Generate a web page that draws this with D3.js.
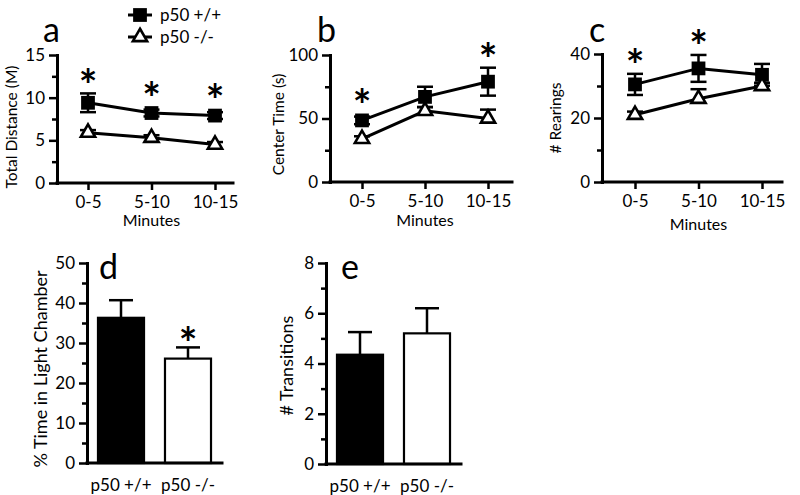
<!DOCTYPE html>
<html><head><meta charset="utf-8">
<script src="https://cdn.jsdelivr.net/npm/d3@7"></script>
<style>
body{margin:0;background:#fff}
text{font-family:Lato,"Noto Sans",sans-serif;fill:#000}
</style>
</head><body>
<svg id="chart" width="800" height="495"></svg>
<script>
// ---------- data ----------
const minutes = ["0-5", "5-10", "10-15"];
const genotypes = ["p50 +/+", "p50 -/-"];

const distWT = [9.4, 8.2, 7.9];
const distWTErr = [1.1, 0.4, 0.4];
const distKO = [5.9, 5.3, 4.5];
const distKOErr = [0.3, 0.3, 0.3];
const distSig = [true, true, true];

const centerWT = [48.5, 67, 79];
const centerWTErr = [3, 8, 11];
const centerKO = [34, 56, 50];
const centerKOErr = [2, 3, 7];
const centerSig = [true, false, true];

const rearWT = [30.5, 35.5, 33.5];
const rearWTErr = [3.3, 4.2, 3.4];
const rearKO = [21, 26, 30];
const rearKOErr = [1, 3, 1];
const rearSig = [true, true, false];

const lightTime = [36.3, 26.1];
const lightTimeErr = [4.4, 2.8];
const lightSig = [false, true];

const transitions = [4.35, 5.2];
const transitionsErr = [0.9, 1.0];
const transSig = [false, false];

const distTicks = [0, 5, 10, 15], distMinor = [2.5, 7.5, 12.5];
const centerTicks = [0, 50, 100], centerMinor = [25, 75];
const rearTicks = [0, 20, 40], rearMinor = [10, 30];
const lightTicks = [0, 10, 20, 30, 40, 50], lightMinor = [5, 15, 25, 35, 45];
const transTicks = [0, 2, 4, 6, 8], transMinor = [1, 3, 5, 7];

// ---------- drawing ----------
const svg = d3.select("#chart");
const TICKFONT = 17;
const STAR = 44;

function yAxis(g, y, ax, majors, minors) {
  const a = g.append("g").attr("transform", `translate(${ax},0)`)
    .call(d3.axisLeft(y).tickValues(majors).tickSize(8).tickPadding(4).tickSizeOuter(0));
  a.attr("font-family", null).attr("font-size", null);
  a.select(".domain").attr("stroke-width", 3).attr("stroke-linecap", "square");
  a.selectAll(".tick line").attr("stroke-width", 2.5);
  a.selectAll(".tick text").style("font-size", TICKFONT + "px");
  const m = g.append("g").attr("transform", `translate(${ax},0)`)
    .call(d3.axisLeft(y).tickValues(minors).tickSize(5).tickFormat(""));
  m.select(".domain").remove();
  m.selectAll(".tick line").attr("stroke-width", 2.5);
}

function star(g, x, centerY) {
  g.append("text").attr("x", x).attr("y", centerY + STAR * 0.58)
    .attr("text-anchor", "middle").style("font-size", STAR + "px").style("font-weight", "bold").text("*");
}

function linePanel(c) {
  const g = svg.append("g");
  const y = d3.scaleLinear().domain(c.domain).range([c.y0, c.y1]);
  const x = d3.scalePoint().domain(minutes).range(c.xr);
  yAxis(g, y, c.ax, c.majors, c.minors);
  const xa = g.append("g").attr("transform", `translate(0,${c.y0})`)
    .call(d3.axisBottom(x).tickSize(7).tickPadding(6).tickSizeOuter(0));
  xa.attr("font-family", null).attr("font-size", null);
  xa.select(".domain").remove();
  xa.selectAll(".tick line").attr("stroke-width", 2.5);
  xa.selectAll(".tick text").style("font-size", TICKFONT + "px");
  g.append("line").attr("x1", c.ax).attr("x2", c.xEnd).attr("y1", c.y0).attr("y2", c.y0)
    .attr("stroke", "#000").attr("stroke-width", 3).attr("stroke-linecap", "square");

  const line = d3.line().x((d, i) => x(minutes[i])).y(d => y(d));
  const cap = 8;
  c.wt.forEach((v, i) => {
    const xx = x(minutes[i]), lo = y(v - c.wtErr[i]), hi = y(v + c.wtErr[i]);
    g.append("line").attr("x1", xx).attr("x2", xx).attr("y1", lo).attr("y2", hi).attr("stroke", "#000").attr("stroke-width", 2.5);
    [lo, hi].forEach(yy => g.append("line").attr("x1", xx - cap).attr("x2", xx + cap).attr("y1", yy).attr("y2", yy).attr("stroke", "#000").attr("stroke-width", 2.5));
  });
  c.ko.forEach((v, i) => {
    const xx = x(minutes[i]), lo = y(v), hi = y(v + c.koErr[i]);
    g.append("line").attr("x1", xx).attr("x2", xx).attr("y1", lo).attr("y2", hi).attr("stroke", "#000").attr("stroke-width", 2.5);
    g.append("line").attr("x1", xx - cap).attr("x2", xx + cap).attr("y1", hi).attr("y2", hi).attr("stroke", "#000").attr("stroke-width", 2.5);
  });
  g.append("path").attr("d", line(c.wt)).attr("fill", "none").attr("stroke", "#000").attr("stroke-width", 3);
  g.append("path").attr("d", line(c.ko)).attr("fill", "none").attr("stroke", "#000").attr("stroke-width", 3);
  c.wt.forEach((v, i) => {
    g.append("path").attr("d", d3.symbol(d3.symbolSquare, 190)())
      .attr("transform", `translate(${x(minutes[i])},${y(v)})`).attr("fill", "#000");
  });
  c.ko.forEach((v, i) => {
    g.append("path").attr("d", d3.symbol(d3.symbolTriangle, 88)())
      .attr("transform", `translate(${x(minutes[i])},${y(v)})`).attr("fill", "#fff")
      .attr("stroke", "#000").attr("stroke-width", 2.6).attr("stroke-linejoin", "miter");
  });
  c.sig.forEach((s, i) => {
    if (!s) return;
    const top = Math.min(y(c.wt[i] + c.wtErr[i]), y(c.wt[i]) - 7);
    star(g, x(minutes[i]), top - 18);
  });
  g.append("text").attr("x", c.letterX).attr("y", c.letterY).style("font-size", "34px").text(c.letter);
  g.append("text").attr("transform", `translate(${c.titleX},${(c.y0 + c.y1) / 2 + c.titleShift}) rotate(-90)`)
    .attr("text-anchor", "middle").style("font-size", "15.5px").text(c.title);
  g.append("text").attr("x", x(minutes[1])).attr("y", c.minY)
    .attr("text-anchor", "middle").style("font-size", "16px").text("Minutes");
}

function barPanel(c) {
  const g = svg.append("g");
  const y = d3.scaleLinear().domain(c.domain).range([c.y0, c.y1]);
  const x = d3.scaleBand().domain(genotypes).range([c.ax, c.xEnd]).paddingInner(0.313).paddingOuter(0.164);
  yAxis(g, y, c.ax, c.majors, c.minors);
  const xa = g.append("g").attr("transform", `translate(0,${c.y0})`)
    .call(d3.axisBottom(x).tickSize(0).tickPadding(16).tickSizeOuter(0));
  xa.attr("font-family", null).attr("font-size", null);
  xa.select(".domain").remove();
  xa.selectAll(".tick text").style("font-size", TICKFONT + "px");
  c.vals.forEach((v, i) => {
    const cx = x(genotypes[i]) + x.bandwidth() / 2, hi = y(v + c.err[i]);
    g.append("line").attr("x1", cx).attr("x2", cx).attr("y1", y(v)).attr("y2", hi).attr("stroke", "#000").attr("stroke-width", 2.5);
    g.append("line").attr("x1", cx - 12).attr("x2", cx + 12).attr("y1", hi).attr("y2", hi).attr("stroke", "#000").attr("stroke-width", 2.5);
    g.append("rect").attr("x", x(genotypes[i])).attr("y", y(v)).attr("width", x.bandwidth())
      .attr("height", c.y0 - y(v)).attr("fill", i === 0 ? "#000" : "#fff").attr("stroke", "#000").attr("stroke-width", 2.2);
    if (c.sig[i]) star(g, cx, hi - 14);
  });
  g.append("line").attr("x1", c.ax).attr("x2", c.xEnd).attr("y1", c.y0).attr("y2", c.y0)
    .attr("stroke", "#000").attr("stroke-width", 3).attr("stroke-linecap", "square");
  g.append("text").attr("x", c.letterX).attr("y", c.letterY).style("font-size", "34px").text(c.letter);
  g.append("text").attr("transform", `translate(${c.titleX},${(c.y0 + c.y1) / 2 + c.titleShift}) rotate(-90)`)
    .attr("text-anchor", "middle").style("font-size", "18px").text(c.title);
}

linePanel({letter: "a", letterX: 43, letterY: 42, title: "Total Distance (M)", titleX: 17, titleShift: 8,
  ax: 57, xEnd: 233, y0: 183, y1: 55, xr: [88, 215], domain: [0, 15], majors: distTicks, minors: distMinor,
  wt: distWT, wtErr: distWTErr, ko: distKO, koErr: distKOErr, sig: distSig, minY: 226});
linePanel({letter: "b", letterX: 317, letterY: 42, title: "Center Time (s)", titleX: 284, titleShift: 6,
  ax: 330, xEnd: 512, y0: 182, y1: 55, xr: [362, 488], domain: [0, 100], majors: centerTicks, minors: centerMinor,
  wt: centerWT, wtErr: centerWTErr, ko: centerKO, koErr: centerKOErr, sig: centerSig, minY: 226});
linePanel({letter: "c", letterX: 589, letterY: 42, title: "# Rearings", titleX: 561, titleShift: 0,
  ax: 602, xEnd: 782, y0: 182, y1: 54, xr: [635, 762], domain: [0, 40], majors: rearTicks, minors: rearMinor,
  wt: rearWT, wtErr: rearWTErr, ko: rearKO, koErr: rearKOErr, sig: rearSig, minY: 230});

barPanel({letter: "d", letterX: 99, letterY: 279, title: "% Time in Light Chamber", titleX: 47, titleShift: 6,
  ax: 87, xEnd: 222, y0: 463, y1: 263, domain: [0, 50], majors: lightTicks, minors: lightMinor,
  vals: lightTime, err: lightTimeErr, sig: lightSig});
barPanel({letter: "e", letterX: 341, letterY: 279, title: "# Transitions", titleX: 293, titleShift: 2,
  ax: 326, xEnd: 461, y0: 464, y1: 263, domain: [0, 8], majors: transTicks, minors: transMinor,
  vals: transitions, err: transitionsErr, sig: transSig});

// legend
const leg = svg.append("g");
[["sq", 15, genotypes[0]], ["tri", 37, genotypes[1]]].forEach(([t, yy, label]) => {
  leg.append("line").attr("x1", 128).attr("x2", 152).attr("y1", yy).attr("y2", yy).attr("stroke", "#000").attr("stroke-width", 3);
  leg.append("path").attr("d", d3.symbol(t === "sq" ? d3.symbolSquare : d3.symbolTriangle, t === "sq" ? 190 : 88)())
    .attr("transform", `translate(140,${yy})`).attr("fill", t === "sq" ? "#000" : "#fff")
    .attr("stroke", t === "sq" ? "none" : "#000").attr("stroke-width", 2.6);
  leg.append("text").attr("x", 160).attr("y", yy + 6).style("font-size", "17px").text(label);
});
</script>
</body></html>
